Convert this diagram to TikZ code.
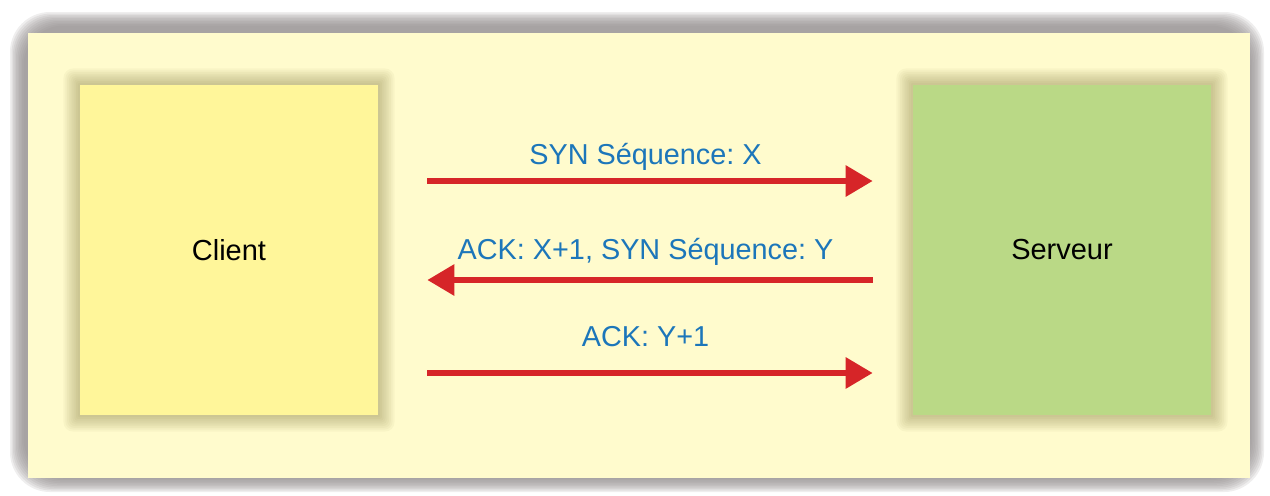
\documentclass[tikz,border=0pt]{standalone}
\usepackage{fontspec}
\setmainfont{Liberation Sans}
\usetikzlibrary{arrows.meta}
\usetikzlibrary{backgrounds}

\definecolor{fond}{RGB}{255,251,205}
\definecolor{cadre}{RGB}{145,140,140}
\definecolor{jaune}{RGB}{255,246,154}
\definecolor{vert}{RGB}{186,217,134}
\definecolor{rouge}{RGB}{214,37,40}
\definecolor{bleu}{RGB}{28,118,186}
\definecolor{ombre}{RGB}{110,100,40}

\tikzset{
  boite/.style={minimum width=5.96cm, minimum height=6.6cm, inner sep=0pt,
    font=\fontsize{16.5}{20}\selectfont},
  fleche/.style={rouge, line width=0.12cm, -{Triangle[length=0.54cm,width=0.6cm]}},
  texte/.style={bleu, font=\fontsize{16.4}{19}\selectfont, anchor=base, inner sep=0pt},
}

\begin{document}
\frenchspacing
\begin{tikzpicture}[x=0.02cm, y=-0.02cm]
    \useasboundingbox (0,0) rectangle (1270,495);

    % 客户端与服务器
    \node[boite, fill=jaune] (client) at (229,250) {Client};
    \node[boite, fill=vert] (serveur) at (1062,250) {Serveur};

    \begin{pgfonlayer}{background}
    % 外框（灰色阴影）
    \foreach \i in {0,...,9}
        \fill[cadre, opacity=0.15, rounded corners=0.8cm] (10+\i*1.5,12+\i*1.5) rectangle (1264-\i*1.5,492-\i*1.5);
    \fill[fond] (28,33) rectangle (1250,478);
    % 方框的柔和阴影
    \foreach \n in {client,serveur}
        \foreach \i in {1,...,9}
            \fill[ombre, opacity=0.045, rounded corners=\i*0.6pt]
                ([shift={(-\i*1.8,\i*1.8)}]\n.south west) rectangle ([shift={(\i*1.8,-\i*1.8)}]\n.north east);
    \end{pgfonlayer}

    % 三次握手
    \draw[fleche, shorten <=0.98cm, shorten >=0.8cm] ([yshift=1.38cm]client.east) -- ([yshift=1.38cm]serveur.west)
        node[texte, midway, yshift=0.34cm] {SYN Séquence: X};
    \draw[fleche, shorten <=0.8cm, shorten >=0.98cm] ([yshift=-0.6cm]serveur.west) -- ([yshift=-0.6cm]client.east)
        node[texte, midway, yshift=0.42cm] {ACK: X+1, SYN Séquence: Y};
    \draw[fleche, shorten <=0.98cm, shorten >=0.8cm] ([yshift=-2.46cm]client.east) -- ([yshift=-2.46cm]serveur.west)
        node[texte, midway, yshift=0.52cm] {ACK: Y+1};
\end{tikzpicture}
\end{document}
